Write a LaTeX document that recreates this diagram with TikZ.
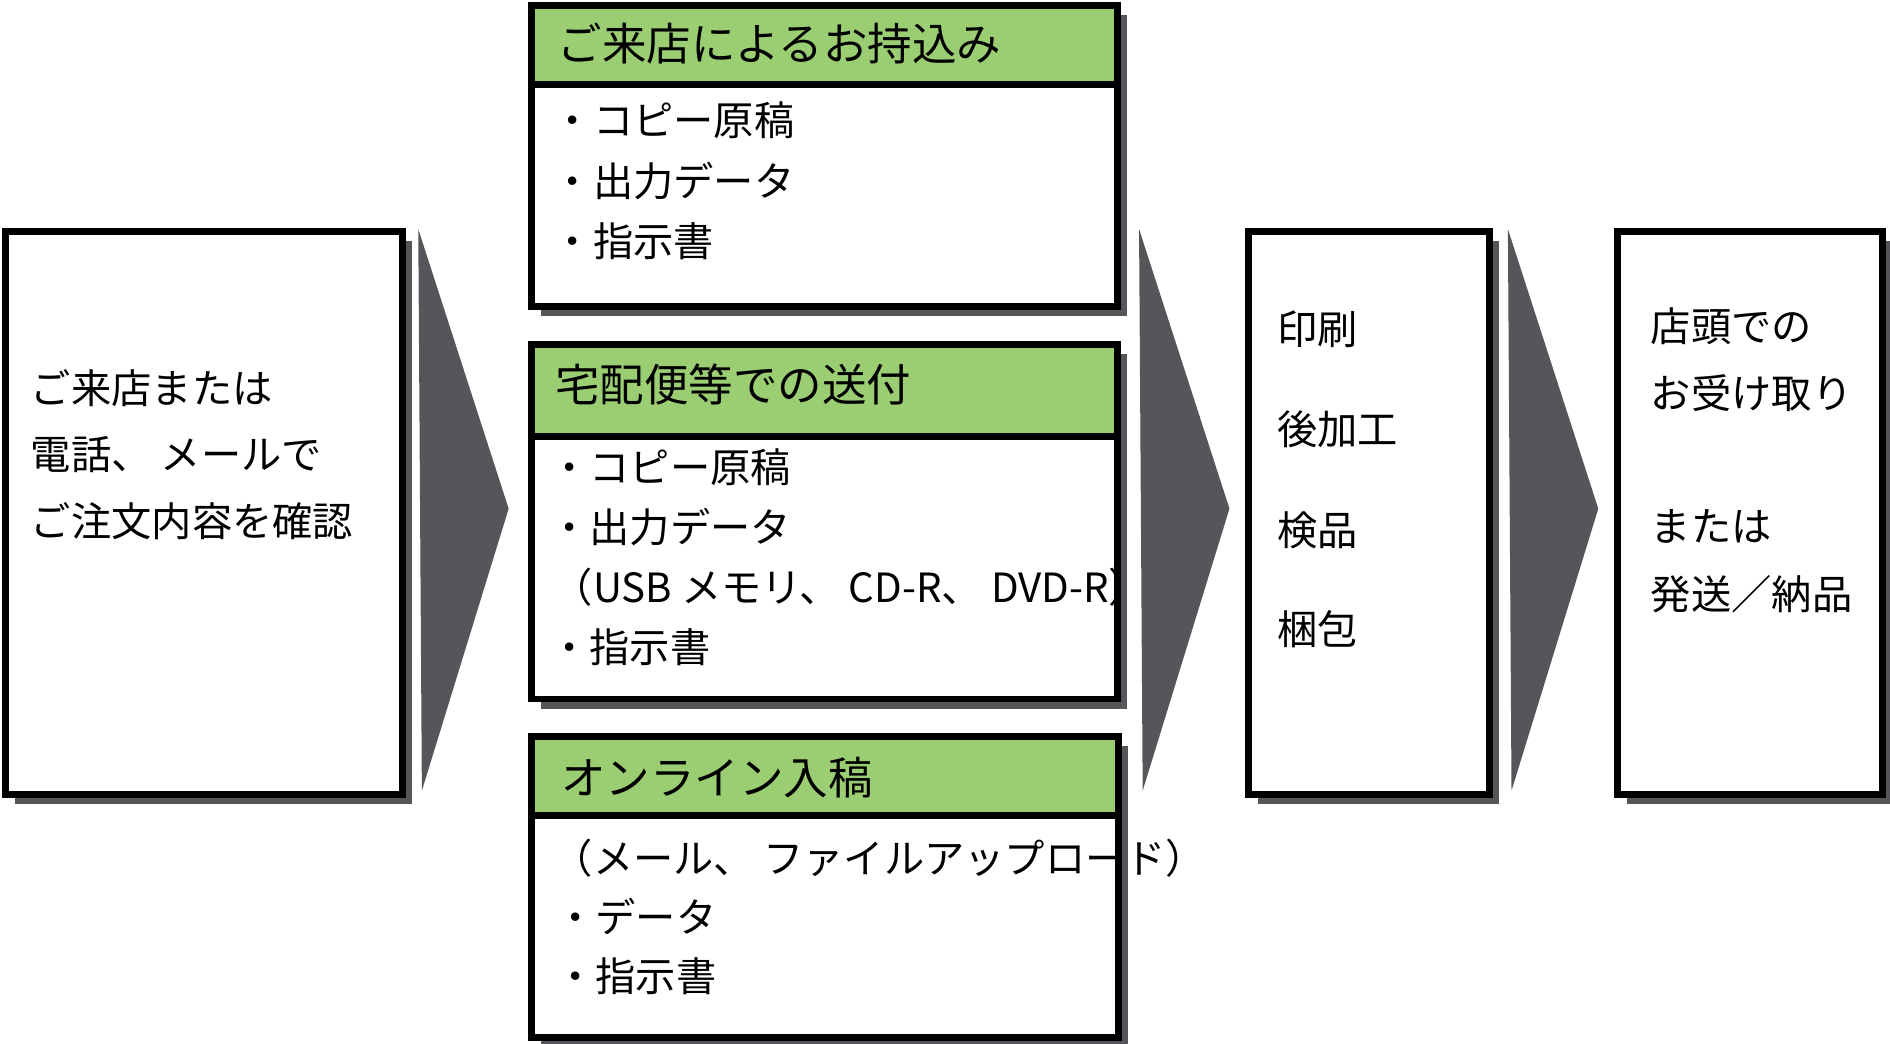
\documentclass[tikz,border=0pt]{standalone}
\usepackage{fontspec}
\setmainfont{Noto Sans CJK JP}
\usetikzlibrary{shadows}
\definecolor{headgreen}{HTML}{9BCD72}
\definecolor{shadowgrey}{HTML}{56565A}
\begin{document}
\begin{tikzpicture}[x=0.01cm, y=-0.01cm]
  \tikzstyle{box}=[draw, line width=1.6pt, fill=white, anchor=north west, inner sep=0pt,
    drop shadow={shadow xshift=0.08cm, shadow yshift=-0.08cm, opacity=1, fill=shadowgrey}]
  \tikzstyle{head}=[draw, line width=1.6pt, fill=headgreen, anchor=north west, inner sep=0pt]
  \tikzstyle{txt}=[anchor=west, inner sep=0pt, font=\fontsize{9.5}{11}\selectfont]
  \tikzstyle{htxt}=[anchor=west, inner sep=0pt, font=\fontsize{10.5}{12}\selectfont]
  \tikzstyle{chevron}=[fill=shadowgrey]

  \useasboundingbox (0,0) rectangle (1568,866);

  % boxes
  \node[box, minimum width=3.29cm, minimum height=4.67cm] (order) at (2,189) {};
  \node[box, minimum width=4.86cm, minimum height=2.49cm] (visit) at (438,2) {};
  \node[head, minimum width=4.86cm, minimum height=0.65cm] (visith) at (438,2) {};
  \node[box, minimum width=4.86cm, minimum height=2.94cm] (post) at (438,283) {};
  \node[head, minimum width=4.86cm, minimum height=0.76cm] (posth) at (438,283) {};
  \node[box, minimum width=4.87cm, minimum height=2.50cm] (online) at (438,608) {};
  \node[head, minimum width=4.87cm, minimum height=0.66cm] (onlineh) at (438,608) {};
  \node[box, minimum width=2.00cm, minimum height=4.67cm] (work) at (1033,189) {};
  \node[box, minimum width=2.20cm, minimum height=4.67cm] (deliver) at (1339,189) {};

  % chevrons
  \fill[chevron] (347,190) -- (422,422) -- (350,656) -- cycle;
  \fill[chevron] (945,190) -- (1020,422) -- (948,656) -- cycle;
  \fill[chevron] (1251,190) -- (1326,422) -- (1254,656) -- cycle;

  % texts
  \node[txt] (o1) at (25,322) {ご来店または};
  \node[txt] (o2) at (25,377) {電話、 メールで};
  \node[txt] (o3) at (25,432) {ご注文内容を確認};

  \node[htxt] (v0) at (462,36) {ご来店によるお持込み};
  \node[txt] (v1) at (458,100) {・コピー原稿};
  \node[txt] (v2) at (458,150) {・出力データ};
  \node[txt] (v3) at (458,200) {・指示書};

  \node[htxt] (p0) at (460,319) {宅配便等での送付};
  \node[txt] (p1) at (455,388) {・コピー原稿};
  \node[txt] (p2) at (455,437) {・出力データ};
  \node[txt] (p3) at (458,487) {（USB メモリ、 CD-R、 DVD-R）};
  \node[txt] (p4) at (455,537) {・指示書};

  \node[htxt] (n0) at (465,645) {オンライン入稿};
  \node[txt] (n1) at (458,712) {（メール、 ファイルアップロード）};
  \node[txt] (n2) at (460,760) {・データ};
  \node[txt] (n3) at (460,810) {・指示書};

  \node[txt] (w1) at (1059,273) {印刷};
  \node[txt] (w2) at (1059,356) {後加工};
  \node[txt] (w3) at (1059,440) {検品};
  \node[txt] (w4) at (1059,522) {梱包};

  \node[txt] (d1) at (1369,271) {店頭での};
  \node[txt] (d2) at (1369,326) {お受け取り};
  \node[txt] (d3) at (1369,437) {または};
  \node[txt] (d4) at (1369,493) {発送／納品};
\end{tikzpicture}
\end{document}
